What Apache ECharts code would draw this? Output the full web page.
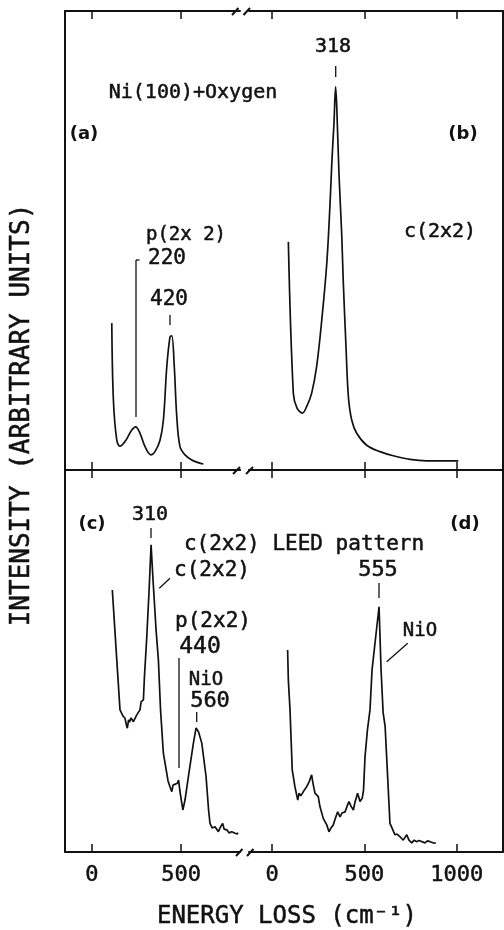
<!DOCTYPE html>
<html>
<head>
<meta charset="utf-8">
<script src="https://cdn.jsdelivr.net/npm/echarts@6/dist/echarts.min.js"></script>
<style>
  html, body { margin: 0; padding: 0; background: #fff; }
  #chart { width: 504px; height: 930px; }
</style>
</head>
<body>
<div id="chart"></div>
<script>
// energy loss (cm-1) and intensity (arbitrary, 0-100 per panel)
const energyA = [112, 121, 140, 158, 186, 224, 246, 270, 298, 332, 354, 382, 401, 420, 438, 448, 462, 476, 494, 522, 560, 597, 625];
const intensityA = [32.0, 15.3, 6.5, 5.2, 6.2, 8.7, 9.4, 8.0, 5.1, 3.3, 4.0, 6.5, 10.9, 22.5, 29.0, 29.2, 22.5, 11.6, 5.1, 3.3, 2.2, 1.6, 1.3];

const energyB = [88, 115, 135, 164, 187, 214, 241, 269, 296, 313, 324, 335, 344, 350, 362, 377, 385, 400, 413, 431, 458, 512, 584, 656, 747, 837, 1008];
const intensityB = [49.7, 16.7, 13.5, 12.4, 13.8, 16.7, 22.5, 32.7, 45.0, 57.4, 67.5, 75.5, 83.5, 79.2, 64.6, 51.2, 41.4, 26.9, 16.0, 10.9, 8.0, 5.4, 4.0, 3.1, 2.3, 2.0, 2.0];

const energyC = [115, 140, 158, 175, 186, 195, 199, 206, 211, 220, 233, 252, 270, 276, 280, 289, 295, 307, 321, 332, 343, 360, 373, 385, 401, 420, 427, 438, 448, 455, 466, 479, 486, 494, 510, 522, 541, 569, 584, 591, 598, 602, 616, 640, 654, 662, 674, 690, 709, 718, 733, 741, 756, 769, 784, 802, 814, 818];
const intensityC = [68.6, 50.3, 37.2, 35.6, 35.0, 33.0, 32.4, 34.6, 34.0, 35.1, 34.1, 35.9, 37.2, 39.3, 39.8, 39.8, 46.0, 55.5, 68.6, 80.4, 71.2, 58.1, 50.3, 37.2, 25.8, 20.6, 18.6, 17.1, 15.8, 17.5, 17.1, 18.0, 18.8, 15.8, 11.0, 13.6, 19.7, 28.5, 32.5, 33.0, 31.4, 31.5, 28.5, 19.7, 11.0, 7.5, 6.3, 6.6, 5.3, 6.3, 7.5, 6.0, 5.8, 5.0, 5.3, 4.9, 4.7, 5.1];

const energyD = [84, 88, 97, 109, 124, 139, 146, 156, 169, 187, 200, 214, 221, 232, 240, 250, 259, 265, 277, 286, 296, 308, 319, 331, 343, 355, 368, 378, 395, 406, 416, 427, 440, 449, 463, 476, 488, 495, 503, 516, 530, 541, 559, 579, 590, 601, 612, 625, 638, 649, 665, 676, 692, 710, 729, 741, 756, 769, 783, 795, 805, 828, 841, 855, 871, 886];
const intensityD = [52.9, 45.0, 37.2, 21.5, 17.0, 13.6, 15.4, 14.7, 15.8, 17.1, 18.3, 20.2, 18.1, 15.4, 15.7, 14.5, 11.9, 12.3, 8.8, 8.6, 7.1, 5.3, 6.3, 7.1, 8.9, 10.5, 9.2, 10.2, 10.5, 12.0, 13.2, 12.0, 11.0, 13.1, 15.4, 13.2, 14.1, 16.2, 24.9, 31.9, 37.2, 47.6, 55.5, 64.2, 47.6, 36.5, 32.8, 20.2, 7.5, 6.3, 4.5, 4.7, 4.0, 3.1, 4.5, 3.1, 2.4, 3.1, 2.7, 3.0, 3.1, 2.4, 2.9, 2.7, 2.4, 2.3];

const leftTicks = [0, 500];
const rightTicks = [0, 500, 1000];

const zip = (xs, ys) => xs.map((x, i) => [x, ys[i]]);

const chart = echarts.init(document.getElementById('chart'), null, { renderer: 'canvas' });

const MONO = '"DejaVu Sans Mono", monospace';
const INK = '#111';

const grids = [
  { left: 65, top: 11, width: 175, height: 459 },   // (a)
  { left: 249, top: 11, width: 254, height: 459 },  // (b)
  { left: 65, top: 470, width: 175, height: 382 },  // (c)
  { left: 249, top: 470, width: 254, height: 382 }, // (d)
];

function xAxisFor(gi, position, ticks, min, max, showLabels) {
  return {
    type: 'value',
    gridIndex: gi,
    position: position,
    min: min,
    max: max,
    splitLine: { show: false },
    axisLine: { show: true, onZero: false, lineStyle: { color: INK, width: 2 } },
    axisTick: { show: true, inside: true, length: 8, customValues: ticks, lineStyle: { color: INK, width: 1.5 } },
    axisLabel: {
      show: showLabels,
      customValues: ticks,
      formatter: v => String(v),
      margin: 12,
      color: INK,
      fontFamily: MONO,
      fontSize: 22,
      textBorderColor: INK,
      textBorderWidth: 0.5,
    },
  };
}

const xAxes = [];
[0, 1, 2, 3].forEach(gi => {
  const left = gi % 2 === 0;
  const ticks = left ? leftTicks : rightTicks;
  const min = left ? -150 : -125;
  const max = left ? 830 : 1250;
  xAxes.push(xAxisFor(gi, 'bottom', ticks, min, max, gi >= 2));
  xAxes.push(xAxisFor(gi, 'top', ticks, min, max, false));
});

const yAxes = [0, 1, 2, 3].map(gi => ({
  type: 'value',
  gridIndex: gi,
  position: gi % 2 === 0 ? 'left' : 'right',
  min: 0,
  max: 100,
  splitLine: { show: false },
  axisLine: { show: true, onZero: false, lineStyle: { color: INK, width: 2 } },
  axisTick: { show: false },
  axisLabel: { show: false },
}));

function curve(gi, data, smooth) {
  return {
    type: 'line',
    xAxisIndex: gi * 2,
    yAxisIndex: gi,
    data: data,
    smooth: smooth,
    showSymbol: false,
    lineStyle: { color: INK, width: 1.7 },
    animation: false,
  };
}

function label(text, x, y, size, bold) {
  return {
    type: 'text',
    x: x,
    y: y,
    style: {
      text: text,
      fill: INK,
      stroke: bold ? null : INK,
      lineWidth: 0.5,
      font: (bold ? 'bold ' : '') + size + 'px ' + (bold ? '"DejaVu Sans", sans-serif' : MONO),
      textAlign: 'center',
      textVerticalAlign: 'middle',
    },
  };
}

function seg(x1, y1, x2, y2, w) {
  return {
    type: 'line',
    shape: { x1: x1, y1: y1, x2: x2, y2: y2 },
    style: { stroke: INK, lineWidth: w || 1.3 },
  };
}

const graphics = [
  label('Ni(100)+Oxygen', 193, 93, 20),
  label('318', 333, 47, 20),
  label('(a)', 84, 134, 18, true),
  label('(b)', 463, 134, 18, true),
  label('p(2x 2)', 186, 235, 19),
  label('220', 167, 259, 21),
  label('420', 169, 300, 21),
  label('c(2x2)', 440, 232, 20),
  label('(c)', 92, 524, 18, true),
  label('(d)', 465, 524, 18, true),
  label('310', 150, 515, 20),
  label('c(2x2) LEED pattern', 304, 545, 21),
  label('c(2x2)', 212, 571, 21),
  label('555', 378, 570, 22),
  label('p(2x2)', 213, 622, 21),
  label('440', 200, 647, 23),
  label('NiO', 420, 631, 19),
  label('NiO', 206, 680, 19),
  label('560', 210, 701, 22),
  label('ENERGY LOSS (cm\u207B\u00B9)', 287, 917, 24),
  {
    type: 'text',
    x: 22,
    y: 415,
    rotation: Math.PI / 2,
    style: {
      text: 'INTENSITY (ARBITRARY UNITS)',
      fill: INK,
      stroke: INK,
      lineWidth: 0.5,
      font: '26px ' + MONO,
      textAlign: 'center',
      textVerticalAlign: 'middle',
    },
  },
  // peak markers and pointers
  seg(335.7, 66, 335.7, 77),
  seg(136, 260, 136, 417),
  seg(136, 260, 139.5, 260),
  seg(170, 315, 170, 325),
  seg(151, 528, 151, 538),
  seg(159.3, 588.3, 170, 578.3),
  seg(179, 658, 179, 768),
  seg(196.7, 712, 196.7, 722),
  seg(379, 583, 379, 598),
  seg(386.7, 661.7, 407.7, 643.3),
  // axis break marks
  seg(232, 15, 238.5, 8, 2),
  seg(243.5, 15, 250, 8, 2),
  seg(233, 474, 240, 467, 2),
  seg(246, 474, 253, 467, 2),
  seg(236, 856, 242.5, 849, 2),
  seg(247, 856, 253.5, 849, 2),
];

chart.setOption({
  backgroundColor: '#fff',
  animation: false,
  grid: grids,
  xAxis: xAxes,
  yAxis: yAxes,
  series: [
    curve(0, zip(energyA, intensityA), 0.35),
    curve(1, zip(energyB, intensityB), 0.35),
    curve(2, zip(energyC, intensityC), false),
    curve(3, zip(energyD, intensityD), false),
  ],
  graphic: graphics,
});
</script>
</body>
</html>
